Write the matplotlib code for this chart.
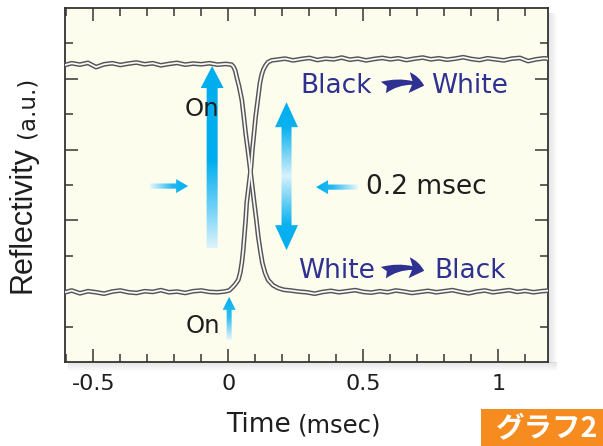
import numpy as np
import matplotlib
matplotlib.use('Agg')
import matplotlib.pyplot as plt
from matplotlib.patches import Polygon, Rectangle, FancyArrowPatch
from matplotlib.colors import to_rgb

# ---------------- data ----------------
# White -> Black response (high reflectivity falling to low)
fall_t = [-0.61, -0.58, -0.55, -0.52, -0.49, -0.46, -0.43, -0.40, -0.37, -0.34, -0.31,
          -0.28, -0.25, -0.22, -0.19, -0.16, -0.13, -0.10, -0.07, -0.04, -0.01, 0.012,
          0.020, 0.026, 0.031, 0.040, 0.050, 0.057, 0.064, 0.072, 0.080, 0.088, 0.096,
          0.104, 0.111, 0.119, 0.126, 0.136, 0.147, 0.165, 0.184, 0.205,
          0.23, 0.26, 0.29, 0.32, 0.35, 0.38, 0.41, 0.44, 0.47, 0.50, 0.53, 0.56, 0.59,
          0.62, 0.65, 0.68, 0.71, 0.74, 0.77, 0.80, 0.83, 0.86, 0.89, 0.92, 0.95, 0.98,
          1.01, 1.04, 1.07, 1.10, 1.13, 1.16, 1.19]
fall_v = [8.38, 8.44, 8.40, 8.45, 8.33, 8.41, 8.44, 8.39, 8.43, 8.46, 8.41,
          8.44, 8.38, 8.42, 8.45, 8.40, 8.43, 8.41, 8.44, 8.40, 8.42, 8.40,
          8.33, 8.22, 8.05, 7.78, 7.40, 6.95, 6.47, 6.00, 5.51, 5.00, 4.49,
          4.00, 3.53, 3.12, 2.80, 2.52, 2.32, 2.17, 2.09, 2.04,
          2.02, 1.99, 1.97, 1.93, 1.98, 2.01, 1.97, 2.00, 2.03, 1.98, 1.96, 2.00, 1.97,
          2.02, 1.99, 1.95, 1.98, 2.01, 1.97, 2.00, 2.03, 1.98, 1.94, 1.99, 2.02, 1.97,
          2.00, 2.03, 1.98, 2.01, 1.97, 2.00, 2.02]

# Black -> White response (low reflectivity rising to high)
rise_t = [-0.61, -0.58, -0.55, -0.52, -0.49, -0.46, -0.43, -0.40, -0.37, -0.34, -0.31,
          -0.28, -0.25, -0.22, -0.19, -0.16, -0.13, -0.10, -0.07, -0.04, -0.015,
          0.003, 0.010, 0.018, 0.027, 0.037, 0.044, 0.050, 0.055, 0.059, 0.064, 0.068,
          0.076, 0.084, 0.089, 0.095, 0.101, 0.109, 0.117, 0.123, 0.129, 0.138, 0.147, 0.16,
          0.18, 0.21, 0.24, 0.27, 0.30, 0.33, 0.36, 0.39, 0.42, 0.45, 0.48, 0.51, 0.54,
          0.57, 0.60, 0.63, 0.66, 0.69, 0.72, 0.75, 0.78, 0.81, 0.84, 0.87, 0.90, 0.93,
          0.96, 0.99, 1.02, 1.05, 1.08, 1.11, 1.14, 1.17, 1.19]
rise_v = [1.96, 2.02, 1.94, 2.00, 1.97, 1.93, 1.99, 2.02, 1.97, 1.95, 2.00,
          1.98, 2.03, 1.97, 1.99, 1.95, 2.00, 2.02, 1.98, 1.97, 1.99,
          2.02, 2.07, 2.13, 2.21, 2.32, 2.52, 2.80, 3.15, 3.53, 4.00, 4.49,
          5.00, 5.51, 5.99, 6.45, 6.92, 7.40, 7.88, 8.10, 8.25, 8.38, 8.47, 8.52,
          8.54, 8.57, 8.52, 8.56, 8.59, 8.53, 8.57, 8.55, 8.60, 8.54, 8.57, 8.52, 8.56,
          8.59, 8.55, 8.58, 8.53, 8.57, 8.60, 8.55, 8.58, 8.54, 8.57, 8.61, 8.56, 8.53,
          8.58, 8.55, 8.52, 8.57, 8.59, 8.50, 8.55, 8.58, 8.56]

xticks = [-0.5, 0, 0.5, 1]
xtick_labels = ['-0.5', '0', '0.5', '1']
xminor = [-0.6, -0.4, -0.3, -0.2, -0.1, 0.1, 0.2, 0.3, 0.4, 0.6, 0.7, 0.8, 0.9, 1.1]
ymajor = [2, 4, 6, 8]
yminor = [1, 3, 5, 7, 9]

# ---------------- figure ----------------
W, H = 603, 446
fig = plt.figure(figsize=(W / 100, H / 100), dpi=100)
fig.patch.set_facecolor('white')
L, R, B, T = 65, 548, 362, 8


def fx(x):
    return x / W


def fy(y):
    return 1 - y / H


# drop shadow of the plot frame
for i in range(9):
    a = 0.22 * (1 - i / 9)
    fig.add_artist(Rectangle((fx(L + 3), fy(B + i + 1)), fx(R - L + 6), 1 / H,
                             transform=fig.transFigure, facecolor='#808080',
                             edgecolor='none', alpha=a, zorder=0))
    fig.add_artist(Rectangle((fx(R + i), fy(B + 1)), 1 / W, (B - T - 4) / H,
                             transform=fig.transFigure, facecolor='#808080',
                             edgecolor='none', alpha=a, zorder=0))

ax = fig.add_axes([fx(L), fy(B), (R - L) / W, (B - T) / H])
ax.set_facecolor('#fdfdee')
XMIN, XMAX, YMIN, YMAX = -0.605, 1.184, 0, 10

# curves: dark outline with light centre
for tt, vv in ((fall_t, fall_v), (rise_t, rise_v)):
    ax.plot(tt, vv, color='#555555', lw=3.4, solid_capstyle='round', zorder=4)
    ax.plot(tt, vv, color='#f8f8f8', lw=1.3, solid_capstyle='round', zorder=5)

C_SAT = np.array(to_rgb('#00aeef'))
C_LIGHT = np.array(to_rgb('#e8f7fd'))


def grad_poly(verts, axis, stops, z=3):
    poly = Polygon(verts, closed=True, facecolor='none', edgecolor='none')
    ax.add_patch(poly)
    xs = [v[0] for v in verts]
    ys = [v[1] for v in verts]
    x0, x1, y0, y1 = min(xs), max(xs), min(ys), max(ys)
    n = 256
    coords = np.linspace(y0, y1, n) if axis == 'y' else np.linspace(x0, x1, n)
    f = np.interp(coords, [s[0] for s in stops], [s[1] for s in stops])
    cols = C_LIGHT[None, :] * (1 - f[:, None]) + C_SAT[None, :] * f[:, None]
    if axis == 'y':
        img = np.repeat(cols[:, None, :], 2, axis=1)
    else:
        img = np.repeat(cols[None, :, :], 2, axis=0)
    im = ax.imshow(img, extent=[x0, x1, y0, y1], origin='lower', aspect='auto',
                   interpolation='bilinear', zorder=z)
    im.set_clip_path(poly)


PX_T = 1 / 270.0   # data units of x per pixel
PX_V = 1 / 35.4    # data units of y per pixel


def up_arrow(x, ytip, ytail, sw, hw, hl):
    return [(x - sw, ytail), (x - sw, ytip - hl), (x - hw, ytip - hl), (x, ytip),
            (x + hw, ytip - hl), (x + sw, ytip - hl), (x + sw, ytail)]


def double_v_arrow(x, ytop, ybot, sw, hw, hl):
    return [(x - sw, ybot + hl), (x - hw, ybot + hl), (x, ybot), (x + hw, ybot + hl),
            (x + sw, ybot + hl), (x + sw, ytop - hl), (x + hw, ytop - hl), (x, ytop),
            (x - hw, ytop - hl), (x - sw, ytop - hl)]


def h_arrow(y, xtip, xtail, sw, hw, hl):
    d = 1 if xtip > xtail else -1
    xb = xtip - d * hl
    return [(xtail, y - sw), (xb, y - sw), (xb, y - hw), (xtip, y), (xb, y + hw),
            (xb, y + sw), (xtail, y + sw)]


# big "On" arrow
grad_poly(up_arrow(-0.060, 8.36, 3.22, 5.5 * PX_T, 11.5 * PX_T, 22 * PX_V), 'y',
          [(3.22, 0.05), (4.3, 0.5), (5.7, 1.0), (8.4, 1.0)])
# small right-pointing arrow
grad_poly(h_arrow(4.97, -0.149, -0.29, 2.6 * PX_V, 7 * PX_V, 12 * PX_T), 'x',
          [(-0.29, 0.0), (-0.21, 0.85), (-0.149, 1.0)])
# double-headed arrow
grad_poly(double_v_arrow(0.2155, 7.34, 3.16, 5 * PX_T, 11.5 * PX_T, 25 * PX_V), 'y',
          [(3.16, 1.0), (3.9, 0.95), (5.25, 0.08), (6.6, 0.95), (7.34, 1.0)])
# small left-pointing arrow
grad_poly(h_arrow(4.94, 0.325, 0.48, 2.6 * PX_V, 7 * PX_V, 12 * PX_T), 'x',
          [(0.325, 1.0), (0.385, 0.85), (0.48, 0.0)])
# small lower "On" arrow
grad_poly(up_arrow(0.003, 1.84, 0.62, 2.5 * PX_T, 6.5 * PX_T, 13 * PX_V), 'y',
          [(0.62, 0.0), (1.25, 0.8), (1.84, 1.0)])

# texts
TXT = '#1e1e1e'
ax.text(-0.098, 7.15, 'On', fontsize=17.5, color=TXT, ha='center', va='center', zorder=6)
ax.text(-0.096, 1.02, 'On', fontsize=17.5, color=TXT, ha='center', va='center', zorder=6)
ax.text(0.733, 4.94, '0.2 msec', fontsize=19, color=TXT, ha='center', va='center', zorder=6)

NAVY = '#2e3192'
for yv, left, right in ((7.8, 'Black', 'White'), (2.57, 'White', 'Black')):
    ax.text(0.40, yv, left, fontsize=19, color=NAVY, ha='center', va='center', zorder=6)
    ax.text(0.895, yv, right, fontsize=19, color=NAVY, ha='center', va='center', zorder=6)
    arr = FancyArrowPatch((0.565, yv - 0.08), (0.735, yv - 0.02),
                          arrowstyle='fancy,head_length=0.55,head_width=0.75,tail_width=0.45',
                          mutation_scale=20, connectionstyle='arc3,rad=-0.22',
                          color=NAVY, lw=0, zorder=6)
    ax.add_patch(arr)

ax.set_xlim(XMIN, XMAX)
ax.set_ylim(YMIN, YMAX)
ax.set_xticks(xticks)
ax.set_xticklabels(xtick_labels)
ax.set_xticks(xminor, minor=True)
ax.set_yticks(ymajor)
ax.set_yticks(yminor, minor=True)
ax.tick_params(which='both', direction='in', top=True, right=True, color='#333333',
               labelleft=False)
ax.tick_params(which='major', length=9.5, width=1.1, labelsize=16, pad=9, labelcolor=TXT)
ax.tick_params(which='minor', length=6, width=1.1)
for s in ax.spines.values():
    s.set_color('#333333')
    s.set_linewidth(1.3)

# axis labels
fig.text(fx(226), fy(432), 'Time', fontsize=19, color=TXT, ha='left', va='baseline')
fig.text(fx(298), fy(432), '(msec)', fontsize=17.5, color=TXT, ha='left', va='baseline')
fig.text(fx(23), fy(293), 'Reflectivity', fontsize=22, color=TXT, rotation=90,
         family='Liberation Sans', ha='center', va='bottom')
fig.text(fx(27), fy(107.5), '(a.u.)', fontsize=16.5, color=TXT, rotation=90,
         ha='center', va='center')

# badge
fig.add_artist(Rectangle((fx(481), fy(446)), (W - 481) / W, (446 - 409) / H,
                         transform=fig.transFigure, facecolor='#f68b1f', edgecolor='none'))
fig.text(fx(547), fy(429), 'グラフ2', fontsize=20.5, color='white', fontweight='bold',
         family=['Noto Sans CJK JP', 'DejaVu Sans'], ha='center', va='center')

fig.savefig('out.png', dpi=100)
